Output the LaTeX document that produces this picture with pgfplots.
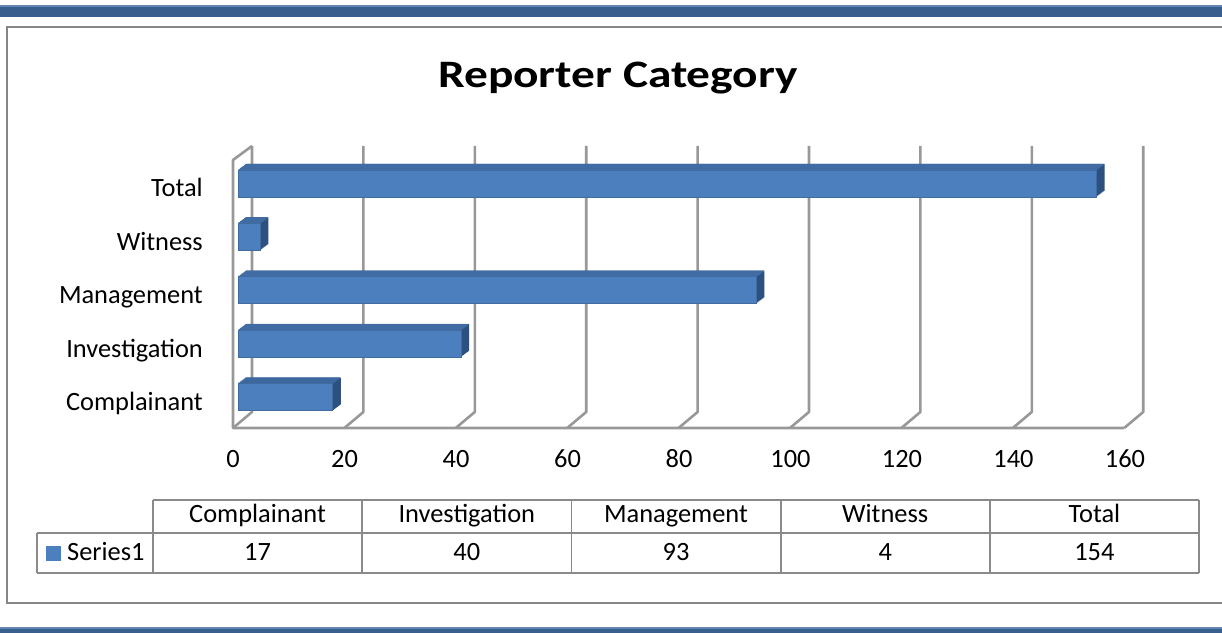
\documentclass[border=0pt]{standalone}
\usepackage{graphicx}
\usepackage{pgfplots}
\usepackage{pgfplotstable}
\pgfplotsset{compat=1.18}
\usepackage{fontspec}
\setmainfont{Carlito}
\definecolor{band}{RGB}{55,94,140}
\definecolor{bandlight}{RGB}{100,135,178}
\definecolor{framegray}{RGB}{134,134,134}
\definecolor{gridgray}{RGB}{152,152,152}
\definecolor{tablegray}{RGB}{138,138,138}
\definecolor{barfront}{RGB}{76,127,189}
\definecolor{bartop}{RGB}{64,108,163}
\definecolor{barside}{RGB}{44,80,128}
\pgfplotstableread{
pos value
0 17
1 40
2 93
3 4
4 154
}\reporterdata
\begin{document}
\begin{tikzpicture}
\begin{scope}[x=1bp,y=-1bp,yshift=633bp]
\useasboundingbox (0,0) rectangle (1222,633);
\begin{scope}
\clip (0,0) rectangle (1222,633);
% bands
\fill[band] (0,6) rectangle (1222,17);
\fill[bandlight] (0,5.5) rectangle (1222,7);
\fill[band] (0,628) rectangle (1222,633);
\fill[bandlight] (0,627.5) rectangle (1222,629);
% frame
\draw[framegray, line width=2bp] (7,27) rectangle (1232,603);
% title
\node[anchor=base, inner sep=0pt, font=\fontsize{39}{46}\selectfont\bfseries] at (618,88) {\scalebox{1.22}[1]{Reporter Category}};
% walls and gridlines
\foreach \k in {0,...,8} {
  \pgfmathsetmacro{\xb}{252+111.4*\k}
  \draw[gridgray, line width=2.6bp, line join=round] (\xb,146) -- (\xb,412) -- (\xb-19,428);
}
\draw[gridgray, line width=2.6bp, line join=round] (1124.2,428) -- (233,428) -- (233,160) -- (252,146);
% data table
\begin{scope}[tablegray, line width=1.8bp]
\draw (153,500) -- (1199,500);
\draw (37,533) -- (1199,533);
\draw (37,573) -- (1199,573);
\draw (37,533) -- (37,573);
\foreach \xx in {153,362.2,571.4,780.6,989.8,1199} {\draw (\xx,500) -- (\xx,573);}
\end{scope}
\begin{scope}[font=\fontsize{26.5}{31}\selectfont]
\node[anchor=base, inner sep=0pt] at (257.6,523) {Complainant};
\node[anchor=base, inner sep=0pt] at (466.8,523) {Investigation};
\node[anchor=base, inner sep=0pt] at (676,523) {Management};
\node[anchor=base, inner sep=0pt] at (885.2,523) {Witness};
\node[anchor=base, inner sep=0pt] at (1094.4,523) {Total};
\node[anchor=base, inner sep=0pt] at (257.6,561) {17};
\node[anchor=base, inner sep=0pt] at (466.8,561) {40};
\node[anchor=base, inner sep=0pt] at (676,561) {93};
\node[anchor=base, inner sep=0pt] at (885.2,561) {4};
\node[anchor=base, inner sep=0pt] at (1094.4,561) {154};
\fill[barfront] (46,546) rectangle (61,561);
\node[anchor=base west, inner sep=0pt] at (67,561) {Series1};
\end{scope}
\end{scope}
\end{scope}
\begin{axis}[
  at={(238bp,209.3bp)}, anchor=south west,
  scale only axis, width=892bp, height=266.9bp,
  xmin=0, xmax=160, ymin=-0.5, ymax=4.5,
  clip=false,
  axis line style={draw=none},
  major tick length=0pt,
  xtick={0,20,...,160},
  ytick={0,1,2,3,4},
  yticklabels={Complainant,Investigation,Management,Witness,Total},
  /pgf/number format/assume math mode=true,
  tick label style={font=\fontsize{26.5}{31}\selectfont, inner sep=0pt},
  xticklabel style={anchor=base, yshift=-44.3bp, xshift=-5bp},
  yticklabel style={anchor=base east, yshift=-13.5bp, xshift=-35bp},
]
% depth of each bar: the bar extruded backwards (side face colour)
\pgfplotsinvokeforeach{8,7,6,5,4,3,2,1}{
  \addplot[xbar, bar shift=0pt, bar width=27bp, fill=barside, draw=none,
           xshift=#1bp, yshift=0.75*#1bp] table[x=value, y=pos] {\reporterdata};
}
% top face of each bar, built from thin slanted strips
\pgfplotsinvokeforeach{0.5,1.5,2.5,3.5,4.5,5.5}{
  \addplot[xbar, bar shift=0pt, bar width=1.3bp, fill=bartop, draw=none,
           xshift=#1/0.75*1bp, yshift=13.5bp+#1bp] table[x=value, y=pos] {\reporterdata};
}
% front face
\addplot[xbar, bar shift=0pt, bar width=27bp, fill=barfront, draw=barfront!85!black, line width=0.6bp]
  table[x=value, y=pos] {\reporterdata};
\end{axis}
\end{tikzpicture}
\end{document}
